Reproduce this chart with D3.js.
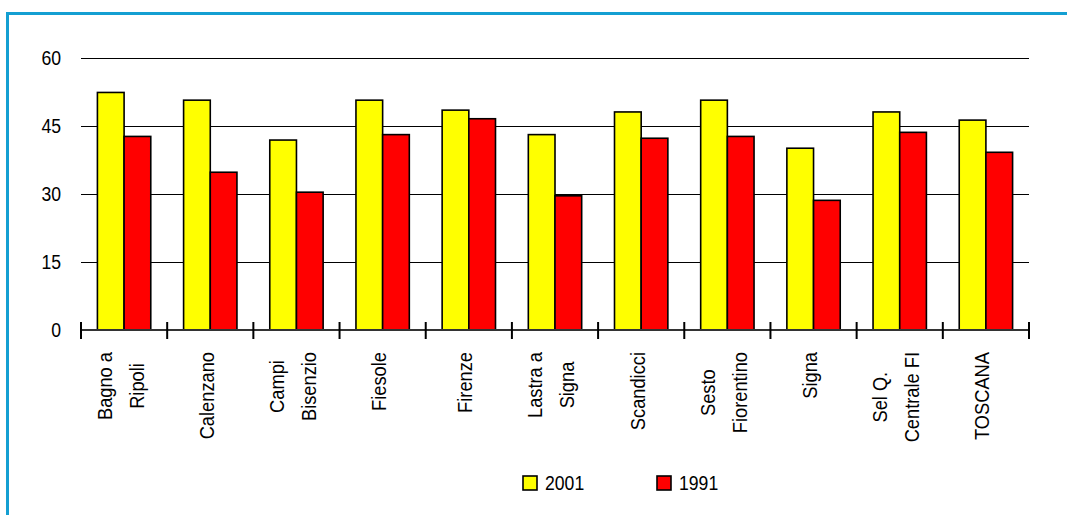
<!DOCTYPE html>
<html>
<head>
<meta charset="utf-8">
<script src="https://cdn.jsdelivr.net/npm/d3@7"></script>
<style>
  html, body { margin: 0; padding: 0; background: #fff; }
  svg { display: block; }
  text { font-family: "Liberation Sans", Arial, sans-serif; fill: #000; }
</style>
</head>
<body>
<svg id="chart" width="1067" height="515"></svg>
<script>
// Municipalities (label lines) and values for the two census years
const categories = [
  ["Bagno a", "Ripoli"],
  ["Calenzano"],
  ["Campi", "Bisenzio"],
  ["Fiesole"],
  ["Firenze"],
  ["Lastra a", "Signa"],
  ["Scandicci"],
  ["Sesto", "Fiorentino"],
  ["Signa"],
  ["Sel Q.", "Centrale FI"],
  ["TOSCANA"]
];
const values2001 = [52.4, 50.7, 41.9, 50.7, 48.5, 43.1, 48.1, 50.7, 40.1, 48.1, 46.3];
const values1991 = [42.7, 34.8, 30.4, 43.1, 46.6, 29.6, 42.3, 42.7, 28.6, 43.6, 39.2];
const seriesNames = ["2001", "1991"];
const seriesColors = ["#ffff00", "#ff0000"];
const yTicks = [0, 15, 30, 45, 60];

const svg = d3.select("#chart");
const W = 1067, H = 515;
// condensed sans: regular face squeezed along the writing direction
const fontSize = 21;
const squeeze = 0.84;
const labelSqueeze = 0.87;

// frame: blue rule along top and left edge
svg.append("path")
  .attr("d", `M7.5,${H} V13.5 H${W}`)
  .attr("fill", "none")
  .attr("stroke", "#149fd2")
  .attr("stroke-width", 3);

const keys = categories.map(c => c.join(" "));
const x0 = d3.scaleBand().domain(keys).range([81, 1029]).padding(0);
const x1 = d3.scaleBand().domain(seriesNames).range([0, x0.bandwidth()])
  .paddingInner(0).paddingOuter(0.615);
const y = d3.scaleLinear().domain([0, 60]).range([330, 58]);

// horizontal gridlines
svg.append("g")
  .selectAll("line")
  .data(yTicks.filter(t => t > 0))
  .join("line")
  .attr("x1", 81).attr("x2", 1029)
  .attr("y1", d => Math.round(y(d)) + 0.5)
  .attr("y2", d => Math.round(y(d)) + 0.5)
  .attr("stroke", "#000")
  .attr("stroke-width", 1);

// y tick labels
svg.append("g")
  .selectAll("text")
  .data(yTicks)
  .join("text")
  .attr("transform", d => `translate(61,${y(d)}) scale(${squeeze},1)`)
  .attr("dy", "0.35em")
  .attr("text-anchor", "end")
  .style("font-size", fontSize + "px")
  .text(d => d);

// bars
const rows = keys.map((k, i) => ({ key: k, vals: [values2001[i], values1991[i]] }));
const groups = svg.append("g")
  .selectAll("g")
  .data(rows)
  .join("g")
  .attr("transform", d => `translate(${x0(d.key)},0)`);

groups.selectAll("rect")
  .data(d => d.vals.map((v, j) => ({ s: seriesNames[j], v, c: seriesColors[j] })))
  .join("rect")
  .attr("x", d => x1(d.s))
  .attr("y", d => y(d.v))
  .attr("width", x1.bandwidth())
  .attr("height", d => y(0) - y(d.v))
  .attr("fill", d => d.c)
  .attr("stroke", "#000")
  .attr("stroke-width", 1.6);

// category axis with boundary ticks
svg.append("line")
  .attr("x1", 81).attr("x2", 1029)
  .attr("y1", 330).attr("y2", 330)
  .attr("stroke", "#333")
  .attr("stroke-width", 2);

const boundaries = keys.map(k => x0(k)).concat([x0.range()[1]]);
svg.append("g")
  .selectAll("line")
  .data(boundaries)
  .join("line")
  .attr("x1", d => d).attr("x2", d => d)
  .attr("y1", 322).attr("y2", 339)
  .attr("stroke", "#000")
  .attr("stroke-width", 2);

// rotated category labels, multi-line labels centred on their longest line
const labelTop = 352;
const lineGap = 32;
const lab = svg.append("g");
categories.forEach((lines, i) => {
  const cx = x0(keys[i]) + x0.bandwidth() / 2 - 4;
  const g = lab.append("g");
  const texts = lines.map(ln => g.append("text")
    .style("font-size", fontSize + "px")
    .attr("text-anchor", "middle")
    .attr("dominant-baseline", "central")
    .text(ln));
  const maxW = d3.max(texts, t => t.node().getComputedTextLength()) * labelSqueeze;
  texts.forEach((t, j) => {
    const lx = cx + (j - (lines.length - 1) / 2) * lineGap;
    const ly = labelTop + maxW / 2;
    t.attr("transform", `translate(${lx},${ly}) rotate(-90) scale(${labelSqueeze},1)`);
  });
});

// legend
const legendItems = [
  { name: seriesNames[0], color: seriesColors[0], x: 523 },
  { name: seriesNames[1], color: seriesColors[1], x: 657 }
];
const lg = svg.append("g")
  .selectAll("g")
  .data(legendItems)
  .join("g")
  .attr("transform", d => `translate(${d.x},476)`);
lg.append("rect")
  .attr("width", 14).attr("height", 14)
  .attr("fill", d => d.color)
  .attr("stroke", "#000")
  .attr("stroke-width", 1.6);
lg.append("text")
  .attr("transform", `translate(22,7) scale(${squeeze},1)`)
  .attr("dy", "0.35em")
  .style("font-size", fontSize + "px")
  .text(d => d.name);
</script>
</body>
</html>
